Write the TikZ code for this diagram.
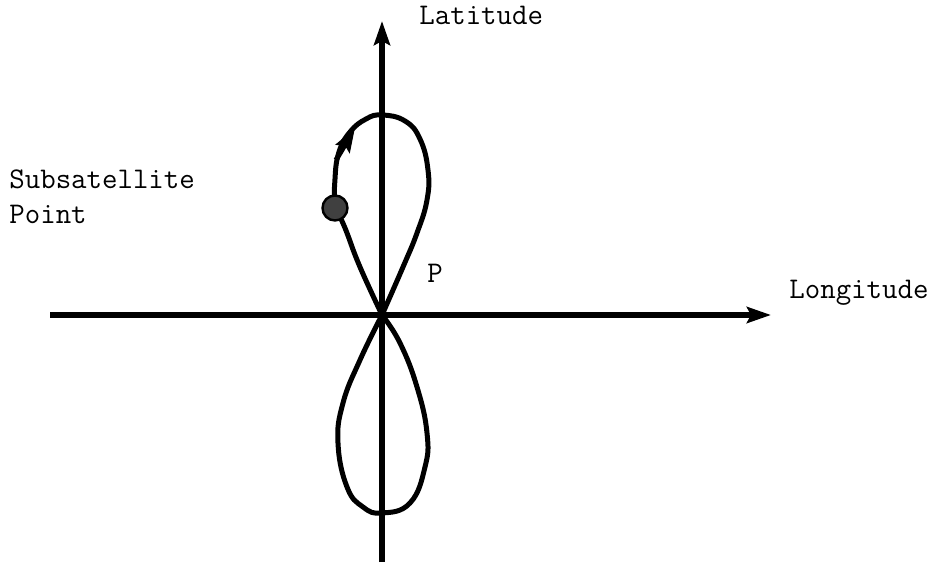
\documentclass[tikz,border=0pt]{standalone}
\usepackage{tikz}
\usetikzlibrary{arrows.meta, positioning}

\begin{document}
\begin{tikzpicture} [
    x=0.5pt, y=0.5pt,
    tip/.style={-{Stealth[length=12pt, width=8pt, inset=2pt]}},
    axis/.style={draw, line width=2.8pt, tip},
    track/.style={draw, line width=2.5pt, line join=round},
    label/.style={font=\ttfamily\fontsize{15}{17.5}\selectfont, inner sep=0pt}
]
    \useasboundingbox (0,0) rectangle (944,564);

    % Nodes
    \coordinate (origin) at (382,249);
    \coordinate (south) at (382,2);
    \coordinate (north) at (382,543);
    \coordinate (west) at (50,249);
    \coordinate (east) at (771,249);
    \coordinate (tail) at (336,404);
    \coordinate (head) at (355,436);

    \node[label, anchor=west] (lat) at (419,549) {Latitude};
    \node[label, anchor=west] (lon) at (789,271) {Longitude};
    \node[label, anchor=west, align=left] (sub) at (9,367) {Subsatellite\\Point};
    \node[label] (p) at (435,291) {P};

    % Axes
    \path [axis] (west) -- (east);
    \path [axis] (south) -- (north);

    % Ground track
    \path [track] plot[smooth, tension=0.75] coordinates {
        (382,249) (360,297) (347,331) (336,360) (335,385) (339,412)
        (350,432) (366,445) (382,449) (405,443) (420,425) (428,394)
        (427,364) (417,331) (403,297) (382,249)};
    \path [track] plot[smooth, tension=0.75] coordinates {
        (382,249) (400,221) (417,177) (427,131) (425,97) (410,61)
        (382,51) (363,57) (347,77) (338,121) (343,161) (360,204) (382,249)};
    \path [track, tip] (tail) -- (head);

    % Subsatellite point
    \node[circle, draw=black, line width=1.2pt, fill=black!75, minimum size=12.5pt, inner sep=0pt] (sat) at (335,356) {};

\end{tikzpicture}
\end{document}
